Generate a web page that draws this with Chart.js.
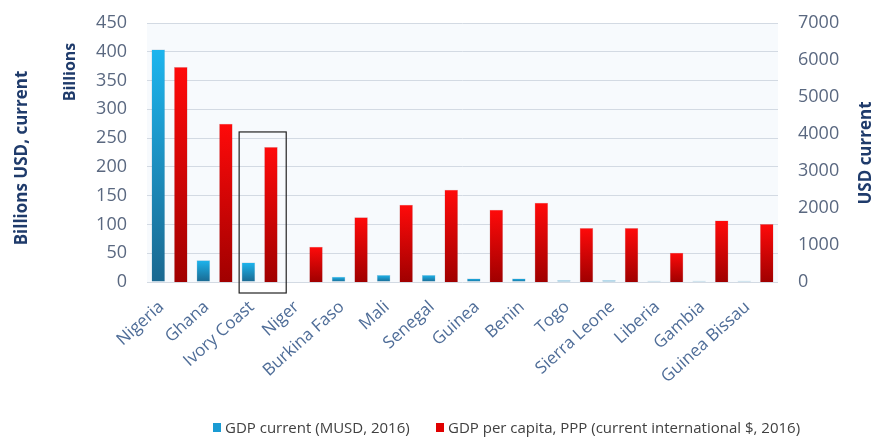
<!DOCTYPE html>
<html>
<head>
<meta charset="utf-8">
<script src="https://cdn.jsdelivr.net/npm/chart.js@4/dist/chart.umd.min.js"></script>
<style>
  html, body { margin: 0; padding: 0; background: #fff; }
  #wrap { width: 876px; height: 448px; position: relative; }
  #legenda { position: absolute; top: 417px; left: 0; margin: 0; padding: 0; list-style: none;
    font: 15px "Open Sans", "DejaVu Sans", sans-serif; color: #404040; white-space: nowrap; }
  #legenda li { position: absolute; top: 0; display: flex; align-items: center; }
  #legenda .cor { width: 8px; height: 9px; margin-right: 4px; }
</style>
</head>
<body>
<div id="wrap">
  <canvas id="grafico"></canvas>
  <ul id="legenda"></ul>
</div>
<script>
// Países da África Ocidental: PIB corrente vs PIB per capita PPP (2016)
const paises = ['Nigeria', 'Ghana', 'Ivory Coast', 'Niger', 'Burkina Faso', 'Mali', 'Senegal',
  'Guinea', 'Benin', 'Togo', 'Sierra Leone', 'Liberia', 'Gambia', 'Guinea Bissau'];
const pibCorrente = [404, 38, 34, 0, 9, 12, 12, 6, 6, 3, 3, 2, 2, 2];          // bilhões USD
const pibPerCapita = [5810, 4280, 3650, 950, 1750, 2090, 2490, 1950, 2140, 1460, 1460, 790, 1660, 1570];
const ticksEsq = { min: 0, max: 450, passo: 50 };
const ticksDir = { min: 0, max: 7000, passo: 1000 };
const destaque = 'Ivory Coast';

const FONTE = '"Open Sans", "DejaVu Sans", sans-serif';
const AZUL_TITULO = '#1f3b6b';

// gradiente vertical por barra: claro no topo, escuro na base
function gradienteBarra(ctx, claro, escuro) {
  const chart = ctx.chart;
  if (!chart.chartArea || ctx.raw == null) return claro;
  const eixo = chart.scales[ctx.dataset.yAxisID];
  const topo = eixo.getPixelForValue(ctx.raw);
  const base = eixo.getPixelForValue(0);
  if (base - topo < 1) return escuro;
  const g = chart.ctx.createLinearGradient(0, topo, 0, base);
  g.addColorStop(0, claro);
  g.addColorStop(1, escuro);
  return g;
}

// eixos verticais com largura fixa e sem folga extra acima/abaixo
const fixaEixo = (largura) => (s) => {
  s.width = largura;
  s.paddingTop = 0;
  s.paddingBottom = 0;
};

// títulos dos eixos e moldura em volta do país destacado
const extras = {
  id: 'extras',
  beforeDraw(chart) {
    const { ctx, chartArea: a } = chart;
    ctx.save();
    ctx.fillStyle = '#f7fafd';
    ctx.fillRect(a.left, a.top, a.right - a.left, a.bottom - a.top);
    ctx.restore();
  },
  afterDraw(chart) {
    const { ctx, chartArea: a } = chart;
    const texto = (t, x, y, tam) => {
      ctx.save();
      ctx.translate(x, y);
      ctx.rotate(-Math.PI / 2);
      ctx.font = `bold ${tam}px ${FONTE}`;
      ctx.fillStyle = AZUL_TITULO;
      ctx.textAlign = 'center';
      ctx.textBaseline = 'middle';
      ctx.fillText(t, 0, 0);
      ctx.restore();
    };
    texto('Billions USD, current', 22, 158, 17);
    texto('Billions', 70, 72, 16);
    texto('USD current', 866, 153, 17);

    const x = chart.scales.x;
    const i = paises.indexOf(destaque);
    const meio = x.getPixelForValue(i);
    const meiaLarg = x.width / paises.length / 2 + 1;
    const topo = chart.scales.y1.getPixelForValue(pibPerCapita[i]) - 15;
    ctx.save();
    ctx.strokeStyle = '#222';
    ctx.lineWidth = 1.2;
    ctx.strokeRect(meio - meiaLarg + 3, topo, meiaLarg * 2, a.bottom + 11 - topo);
    ctx.restore();
  },
};

const grafico = new Chart(document.getElementById('grafico'), {
  type: 'bar',
  data: {
    labels: paises,
    datasets: [
      {
        label: 'GDP current (MUSD, 2016)',
        data: pibCorrente,
        yAxisID: 'y',
        backgroundColor: (c) => gradienteBarra(c, '#1db5ee', '#1a6890'),
        borderColor: 'rgba(20,90,130,0.35)',
        borderWidth: 0.5,
        categoryPercentage: 1.0,
        barPercentage: 0.6,
      },
      {
        label: 'GDP per capita, PPP (current international $, 2016)',
        data: pibPerCapita,
        yAxisID: 'y1',
        backgroundColor: (c) => gradienteBarra(c, '#ff0a0a', '#a00000'),
        borderColor: 'rgba(120,0,0,0.35)',
        borderWidth: 0.5,
        categoryPercentage: 1.0,
        barPercentage: 0.6,
      },
    ],
  },
  options: {
    responsive: true,
    maintainAspectRatio: false,
    animation: false,
    layout: { padding: { top: 23, right: 0, bottom: 0, left: 0 } },
    plugins: {
      legend: { display: false }, // legenda em HTML, abaixo
      tooltip: { enabled: false },
    },
    scales: {
      x: {
        grid: { display: false },
        border: { display: false },
        ticks: {
          font: { family: FONTE, size: 17 },
          color: '#4f6d98',
          minRotation: 42,
          maxRotation: 42,
          autoSkip: false,
          padding: 7,
          labelOffset: -8,
        },
        afterFit: (s) => { s.height = 166; },
      },
      y: {
        position: 'left',
        min: ticksEsq.min,
        max: ticksEsq.max,
        border: { display: false },
        grid: {
          drawTicks: false,
          color: (c) => (c.tick.value % ticksEsq.passo === 0 ? '#d3dae3' : '#e9eef4'),
          lineWidth: 1,
        },
        ticks: {
          stepSize: 10,
          maxTicksLimit: 100,
          font: { family: FONTE, size: 18 },
          color: '#5a6880',
          padding: 20,
          callback: (v) => (v % ticksEsq.passo === 0 ? String(v) : ''),
        },
        afterFit: fixaEixo(147),
      },
      y1: {
        position: 'right',
        min: ticksDir.min,
        max: ticksDir.max,
        border: { display: false },
        grid: { display: false, drawTicks: false },
        ticks: {
          stepSize: ticksDir.passo,
          font: { family: FONTE, size: 18 },
          color: '#5a6880',
          padding: 20,
          callback: (v) => String(v),
        },
        afterFit: fixaEixo(98),
      },
    },
  },
  plugins: [extras],
});

// legenda: quadrado colorido + nome da série
const legendaEl = document.getElementById('legenda');
const coresLegenda = ['#1a9bd3', '#e00000'];
const posLegenda = [213, 436];
for (const [i, d] of grafico.data.datasets.entries()) {
  const li = document.createElement('li');
  li.style.left = posLegenda[i] + 'px';
  const cor = document.createElement('span');
  cor.className = 'cor';
  cor.style.background = coresLegenda[i];
  const nome = document.createElement('span');
  nome.textContent = d.label;
  li.append(cor, nome);
  legendaEl.appendChild(li);
}
</script>
</body>
</html>
